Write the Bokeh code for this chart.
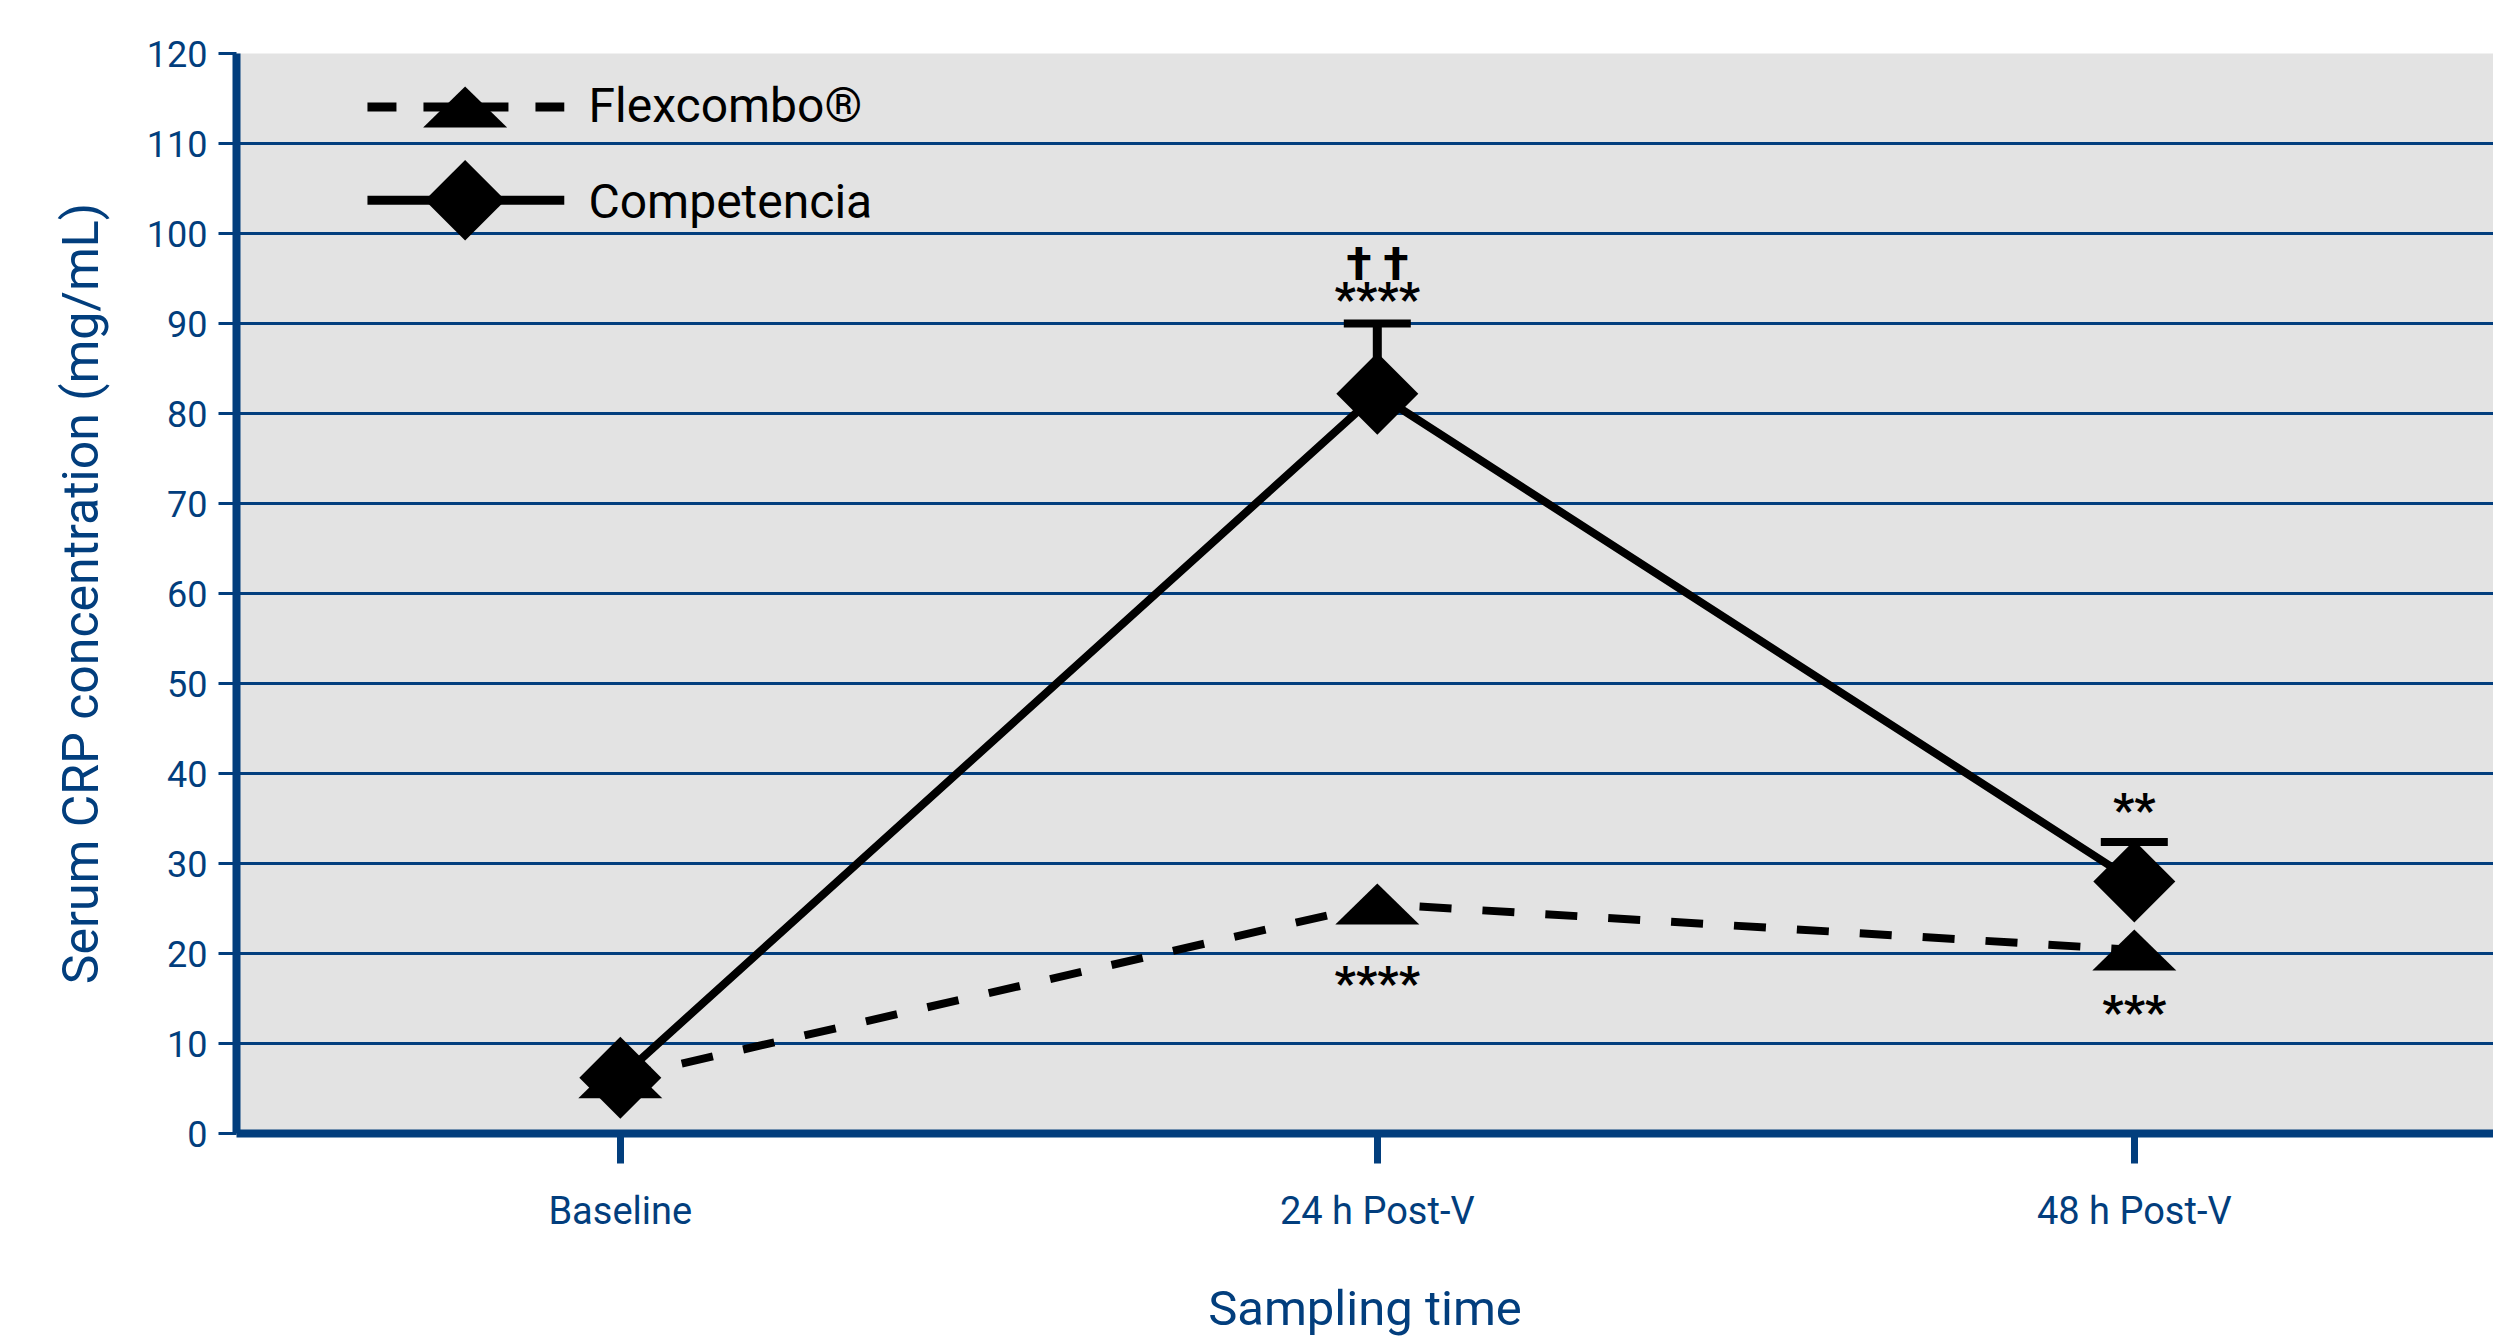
import numpy as np
from bokeh.plotting import figure
from bokeh.models import ColumnDataSource, Whisker, TeeHead, FixedTicker, Range1d
from bokeh.core.properties import value
from bokeh.embed import file_html
from bokeh.resources import INLINE

# ---------------- data ----------------
categories = ["Baseline", "24 h Post-V", "48 h Post-V"]
x_pos = [0, 1, 2]
series_names = ["Flexcombo®", "Competencia"]
flexcombo = [6.2, 25.5, 20.4]
competencia = [6.2, 82.2, 28.0]
competencia_upper = [6.2, 90.0, 32.4]
y_ticks = list(range(0, 121, 10))

sig_text = ["† †", "****", "****", "**", "***"]
sig_x = [1, 1, 1, 2, 2]
sig_y = [96.7, 92.8, 16.8, 36.0, 13.6]

# ---------------- style ----------------
NAVY = "#023E7D"
BG = "#E3E3E3"
FONT = "Roboto"
W, H = 2493, 1340
LEFT, TOP, BOTTOM = 236, 53, 207
PX_X = 757.0   # px per category
PX_Y = 9.0     # px per unit
x0 = -0.507
x1 = x0 + (W - LEFT) / PX_X

p = figure(width=W, height=H, output_backend="svg", toolbar_location=None,
           x_range=Range1d(x0, x1), y_range=Range1d(0, 120),
           min_border_left=LEFT, min_border_top=TOP, min_border_bottom=BOTTOM,
           min_border_right=0)
p.background_fill_color = BG
p.border_fill_color = "white"
p.outline_line_color = None

# grid
p.xgrid.grid_line_color = None
p.ygrid.grid_line_color = NAVY
p.ygrid.grid_line_width = 3
p.ygrid.ticker = FixedTicker(ticks=y_ticks)

# axes
xa = p.xaxis[0]
ya = p.yaxis[0]
xa.ticker = FixedTicker(ticks=x_pos)
xa.major_label_overrides = {x: c for x, c in zip(x_pos, categories)}
ya.ticker = FixedTicker(ticks=y_ticks)
for ax in (xa, ya):
    ax.axis_line_color = NAVY
    ax.axis_line_width = 8
    ax.major_tick_line_color = NAVY
    ax.minor_tick_line_color = None
    ax.major_tick_in = 0
    ax.major_label_text_color = NAVY
    ax.major_label_text_font = FONT
    ax.axis_label_text_color = NAVY
    ax.axis_label_text_font = FONT
    ax.axis_label_text_font_style = "normal"
xa.major_tick_line_width = 7
xa.major_tick_out = 30
xa.major_label_standoff = 25
xa.major_label_text_font_size = "38px"
xa.axis_label = "Sampling time"
xa.axis_label_text_font_size = "49px"
xa.axis_label_standoff = 44

ya.major_tick_line_width = 3
ya.major_tick_out = 18
ya.major_label_standoff = 11
ya.major_label_text_font_size = "36px"
ya.axis_label = "Serum CRP concentration (mg/mL)"
ya.axis_label_text_font_size = "50px"
ya.axis_label_standoff = 34

# error bars (upper only)
idx = [i for i in range(len(x_pos)) if competencia_upper[i] > competencia[i]]
wsrc = ColumnDataSource(dict(base=[x_pos[i] for i in idx],
                             lower=[competencia[i] for i in idx],
                             upper=[competencia_upper[i] for i in idx]))
whisk = Whisker(source=wsrc, base="base", lower="lower", upper="upper",
                dimension="height", line_color="black", line_width=9,
                lower_head=None,
                upper_head=TeeHead(size=67, line_color="black", line_width=8),
                level="underlay")
p.add_layout(whisk)

# series lines
p.line(x_pos, flexcombo, line_color="black", line_width=8, line_dash="32 31")
p.line(x_pos, competencia, line_color="black", line_width=8)

# triangles (flattened) for Flexcombo
TRI_HW = 42 / PX_X
TRI_HH = 20.5 / PX_Y
tri_xs = [[x - TRI_HW, x + TRI_HW, x] for x in x_pos]
tri_ys = [[y - TRI_HH, y - TRI_HH, y + TRI_HH] for y in flexcombo]
p.patches(tri_xs, tri_ys, fill_color="black", line_color=None)

# diamonds for Competencia
p.scatter(x_pos, competencia, marker="square", size=58, angle=np.pi / 4,
          fill_color="black", line_color=None)

# significance marks
p.text(sig_x, sig_y, text=sig_text, text_align="center", text_baseline="alphabetic",
       text_font=value(FONT), text_font_style="bold", text_font_size="47px",
       text_color="black")

# ---------------- legend (drawn) ----------------
LEG_X0, LEG_X1, LEG_MX = -0.334, -0.074, -0.205
LEG_Y = [114.05, 103.7]
LEG_TX = -0.042
LEG_TY = [114.2, 103.6]
p.line([LEG_X0, LEG_X1], [LEG_Y[0]] * 2, line_color="black", line_width=9,
       line_dash="29 27")
p.patches([[LEG_MX - TRI_HW, LEG_MX + TRI_HW, LEG_MX]],
          [[LEG_Y[0] - TRI_HH, LEG_Y[0] - TRI_HH, LEG_Y[0] + TRI_HH]],
          fill_color="black", line_color=None)
p.line([LEG_X0, LEG_X1], [LEG_Y[1]] * 2, line_color="black", line_width=9)
p.scatter([LEG_MX], [LEG_Y[1]], marker="square", size=57, angle=np.pi / 4,
          fill_color="black", line_color=None)
p.text([LEG_TX] * 2, LEG_TY, text=series_names, text_align="left",
       text_baseline="alphabetic", text_font=value(FONT), text_font_size="48px",
       text_color="black")

open("out.html", "w").write(file_html(p, INLINE))
